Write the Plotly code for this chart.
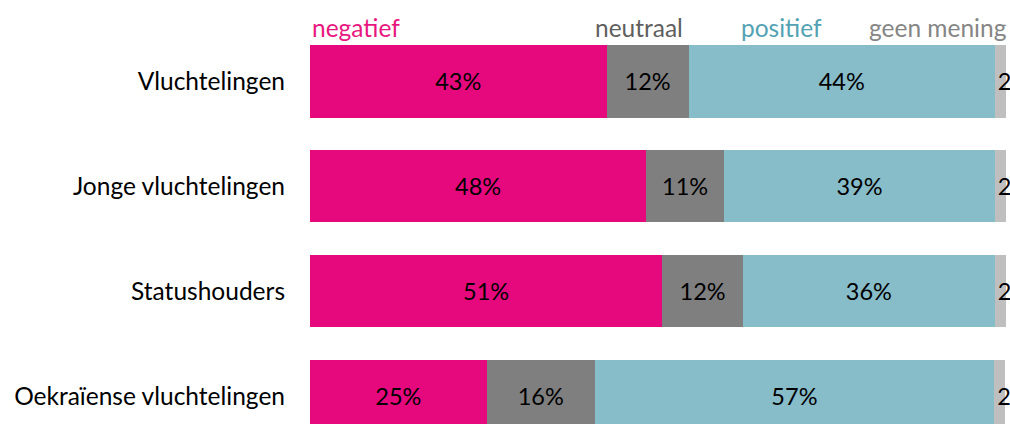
import plotly.graph_objects as go

categories = ["Vluchtelingen", "Jonge vluchtelingen", "Statushouders", "Oekraïense vluchtelingen"]
negatief = [42.6, 48.3, 50.6, 25.4]
neutraal = [11.8, 11.2, 11.6, 15.5]
positief = [44.0, 38.9, 36.2, 57.4]
geen_mening = [1.6, 1.6, 1.6, 1.6]

series = [
    ("negatief", negatief, "#E6097E", "#E8177F"),
    ("neutraal", neutraal, "#7F7F7F", "#5F5F5F"),
    ("positief", positief, "#87BDC9", "#52A2B4"),
    ("geen mening", geen_mening, "#BFBFBF", "#858585"),
]

FONT = "Lato"

fig = go.Figure()
for name, vals, color, _ in series:
    last = name == "geen mening"
    labels = [f"{v:.0f}" if last else f"{v:.0f}%" for v in vals]
    fig.add_trace(go.Bar(
        y=categories, x=vals, name=name, orientation="h",
        marker=dict(color=color, line=dict(width=0)),
        text=labels, textposition="inside", textangle=0,
        insidetextanchor="start" if last else "middle",
        constraintext="none",
        textfont=dict(family=FONT, size=23.5, color="black"),
        cliponaxis=False,
    ))

# legend labels as coloured text above the bars
legend_pos = {"negatief": (0.0, "left"), "neutraal": (0.539, "right"),
              "positief": (0.677, "center"), "geen mening": (1.005, "right")}
for name, vals, _, tcolor in series:
    xp, anchor = legend_pos[name]
    fig.add_annotation(x=xp, y=1.004, xref="paper", yref="paper",
                       xanchor=anchor, yanchor="middle", showarrow=False,
                       text=name, font=dict(family=FONT, size=24.5, color=tcolor))

fig.update_layout(
    width=1010, height=424,
    barmode="stack", bargap=0.31,
    showlegend=False,
    plot_bgcolor="white", paper_bgcolor="white",
    margin=dict(l=310, r=4, t=28.5, b=0, autoexpand=False),
    font=dict(family=FONT, size=24.5, color="black"),
    xaxis=dict(range=[0, 100], visible=False),
    yaxis=dict(range=[3.267, -0.5], autorange=False, showgrid=False, automargin=False,
               ticks="", ticklabelstandoff=24, tickfont=dict(family=FONT, size=24.5)),
)

# drop the default 8px page margin so the figure fills the window
fig.write_html("out.html", config={"displayModeBar": False},
               post_script="document.body.style.margin='0';")
